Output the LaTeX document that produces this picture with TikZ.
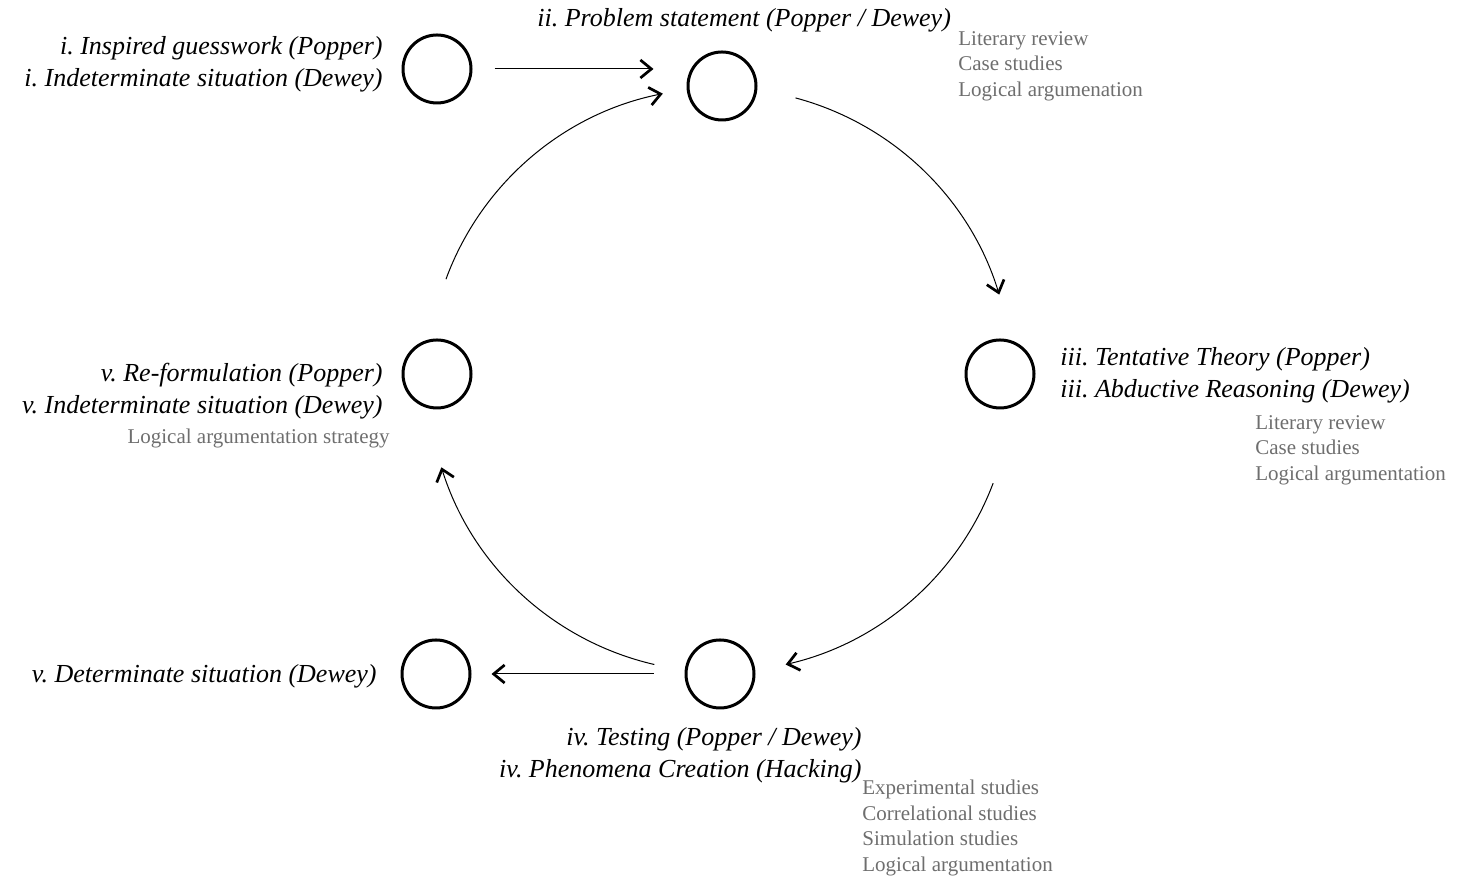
\documentclass[tikz,border=0pt]{standalone}
\usepackage{fontspec}
\setmainfont{Liberation Serif}[ItalicFont=Liberation Serif Italic]
\frenchspacing
\usetikzlibrary{arrows.meta,calc}

\begin{document}
\begin{tikzpicture}[x=0.5pt,y=0.5pt,
  stage/.style={circle,draw,line width=1.5pt,minimum size=34pt,inner sep=0pt},
  phase/.style={font=\fontsize{13}{16}\selectfont\itshape,inner sep=0pt},
  method/.style={font=\fontsize{10.5}{12.75}\selectfont,text=black!57,inner sep=0pt},
  conn/.style={line width=0.5pt,-{Straight Barb[length=5.5pt,width=9pt,line width=1.35pt].}}]
\useasboundingbox (0,0) rectangle (1457,881);

  \node[stage] (c1) at (437,812) {};
  \node[stage] (c2) at (722,795) {};
  \node[stage] (c3) at (1000,507) {};
  \node[stage] (c4) at (720,207) {};
  \node[stage] (c5) at (437,507) {};
  \node[stage] (c6) at (436,207) {};

  \node[phase,anchor=east,align=right] (l1) at (383,817) {i. Inspired guesswork (Popper)\\i. Indeterminate situation (Dewey)};
  \node[phase,anchor=west] (l2) at (537,861) {ii. Problem statement (Popper / Dewey)};
  \node[method,anchor=west,align=left] (m2) at (958,815) {Literary review\\Case studies\\Logical argumenation};
  \node[phase,anchor=west,align=left] (l3) at (1060,506) {iii. Tentative Theory (Popper)\\iii. Abductive Reasoning (Dewey)};
  \node[method,anchor=west,align=left] (m3) at (1255,431) {Literary review\\Case studies\\Logical argumentation};
  \node[phase,anchor=east,align=right] (l4) at (862,126) {iv. Testing (Popper / Dewey)\\iv. Phenomena Creation (Hacking)};
  \node[method,anchor=west,align=left] (m4) at (862,53) {Experimental studies\\Correlational studies\\Simulation studies\\Logical argumentation};
  \node[phase,anchor=east,align=right] (l5) at (383,490) {v. Re-formulation (Popper)\\v. Indeterminate situation (Dewey)};
  \node[method,anchor=east] (m5) at (390,443) {Logical argumentation strategy};
  \node[phase,anchor=east] (l6) at (377,205) {v. Determinate situation (Dewey)};

  % the cycle
  \coordinate (mid) at (720,501);
  \coordinate (a2) at ($(mid)+(75:146pt)$);
  \coordinate (a3) at ($(mid)+(-20.7:146pt)$);
  \coordinate (a4) at ($(mid)+(257:146pt)$);
  \coordinate (a5) at ($(mid)+(159.8:146pt)$);

  \draw[conn] (a2) arc[start angle=75,end angle=17,radius=146pt];
  \draw[conn] (a3) arc[start angle=-20.7,end angle=-77,radius=146pt];
  \draw[conn] (a4) arc[start angle=257,end angle=197.4,radius=146pt];
  \draw[conn] (a5) arc[start angle=159.8,end angle=101.3,radius=146pt];

  \draw[conn,shorten <=11pt,shorten >=16.5pt] (c1.east) -- (c1.east -| c2.west);
  \draw[conn,shorten <=15.5pt,shorten >=10pt] (c4.west) -- (c6.east);

\end{tikzpicture}
\end{document}
